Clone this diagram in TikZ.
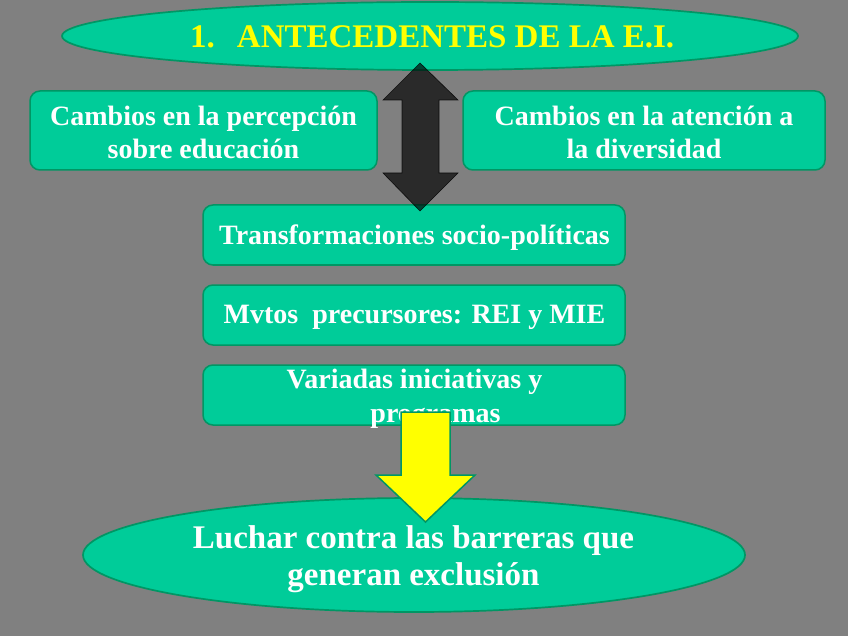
\documentclass[tikz,border=0pt]{standalone}
\usepackage{fontspec}
\setmainfont{Liberation Serif}
\usetikzlibrary{shapes.geometric}
\definecolor{bggray}{RGB}{128,128,128}
\definecolor{boxgreen}{RGB}{0,204,153}
\definecolor{edgegreen}{RGB}{0,150,100}
\definecolor{titleyellow}{RGB}{255,255,0}
\tikzset{
  greenbox/.style={draw=edgegreen, fill=boxgreen, line width=1.5pt, rounded corners=10pt,
    inner sep=0pt},
  greenoval/.style={ellipse, draw=edgegreen, fill=boxgreen, line width=1.7pt, inner sep=0pt},
  boxtext/.style={text=white, align=center, inner sep=0pt, anchor=base,
    font=\fontsize{28}{33}\selectfont\bfseries},
  darkarrow/.style={fill=black, fill opacity=0.67, draw=black, draw opacity=0.8, line width=0.6pt},
  yellowarrow/.style={fill=titleyellow, draw=edgegreen, line width=1.5pt, line join=miter},
}
\begin{document}
\begin{tikzpicture}[x=1pt,y=-1pt]
\fill[bggray] (0,0) rectangle (848,636);
\useasboundingbox (0,0) rectangle (848,636);

\node[greenoval, minimum width=736pt, minimum height=68pt] (title) at (430,36) {};
\node[inner sep=0pt, anchor=base west, text=titleyellow,
  font=\fontsize{33}{36}\selectfont\bfseries] (titletext) at (190,48)
  {1.\hspace{22pt}ANTECEDENTES DE LA E.I.};

\node[greenbox, minimum width=347pt, minimum height=79pt] (percep) at (203.5,130.5) {};
\node[boxtext] (perceptext) at (203.5,159) {Cambios en la percepción\\sobre educación};
\node[greenbox, minimum width=362pt, minimum height=79pt] (diver) at (644,130.5) {};
\node[boxtext] (divertext) at (644,159) {Cambios en la atención a\\la diversidad};

\node[greenbox, minimum width=422pt, minimum height=60pt] (transf) at (414,235) {};
\node[boxtext] (transftext) at (414.5,245) {Transformaciones socio-políticas};
\node[greenbox, minimum width=422pt, minimum height=60pt] (mvtos) at (414,315) {};
\node[boxtext] (mvtostext) at (414.5,323) {Mvtos\ \ precursores: REI y MIE};
\node[greenbox, minimum width=422pt, minimum height=60pt] (variadas) at (414,395) {};
\node[boxtext, font=\fontsize{28}{34}\selectfont\bfseries] (vartext) at (414.5,422)
  {Variadas iniciativas y\\\hspace*{42pt}programas};

% double arrow
\coordinate (dtop) at (420,63);
\coordinate (dbot) at (420,211);
\draw[darkarrow] (dtop) -- ++(38,37) -- ++(-19,0) -- ++(0,73) -- ++(19,0) -- (dbot)
  -- ++(-37,-38) -- ++(19,0) -- ++(0,-73) -- ++(-19,0) -- cycle;

\node[greenoval, minimum width=662pt, minimum height=114pt] (luchar) at (414,555) {};
\node[boxtext, font=\fontsize{33}{37}\selectfont\bfseries] (luchartext) at (413.5,585)
  {Luchar contra las barreras que\\generan exclusión};

% yellow arrow
\coordinate (ytop) at (425.5,412);
\coordinate (ytip) at (425.5,522);
\draw[yellowarrow] (ytop) ++(-24.5,0) -- ++(49,0) -- ++(0,63) -- ++(25,0) -- (ytip)
  -- ++(-49.5,-47) -- ++(25,0) -- cycle;
\end{tikzpicture}
\end{document}
